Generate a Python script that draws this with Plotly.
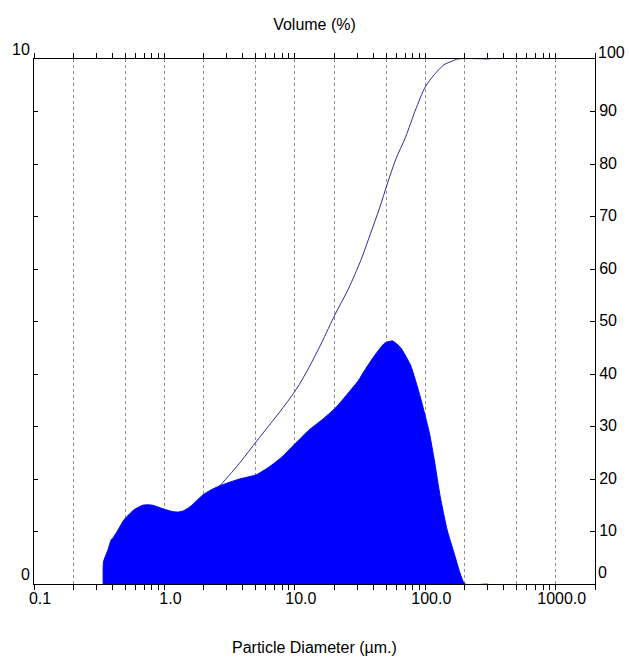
import math
import plotly.graph_objects as go

# Volume density (left axis, %) vs particle diameter (um)
D_FILL = [0.339, 0.341, 0.37, 0.39, 0.404, 0.441, 0.489, 0.582, 0.681, 0.743, 0.811,
          0.933, 1.11, 1.25, 1.39, 1.57, 1.98, 2.23, 2.65, 3.76, 5.06, 6.35, 7.96,
          10.2, 12.8, 16.0, 20.4, 25.7, 30.6, 34.5, 41.1, 48.9, 56.2, 64.7, 77.0,
          91.6, 107.4, 117.2, 130.2, 147.0, 166.1, 184.5, 201, 300]
V_FILL = [0, 0.42, 0.66, 0.84, 0.88, 1.03, 1.22, 1.41, 1.50, 1.51, 1.50,
          1.45, 1.39, 1.37, 1.39, 1.47, 1.70, 1.78, 1.87, 2.00, 2.08, 2.23, 2.42,
          2.69, 2.93, 3.12, 3.35, 3.64, 3.87, 4.08, 4.36, 4.59, 4.63, 4.50, 4.17,
          3.56, 2.88, 2.36, 1.66, 1.03, 0.59, 0.21, 0, 0]

# Cumulative volume (right axis, %)
D_CUM = [0.339, 0.4, 0.5, 0.6, 0.7, 0.8, 1.0, 1.25, 1.5, 2.0, 2.57, 3.76, 5.16,
         7.56, 10.2, 12.8, 16.0, 20.4, 25.7, 32.2, 38.2, 44.6, 51.4, 59.2, 70.5,
         84.1, 100, 117, 139, 161, 175, 310]
C_CUM = [0, 0.5, 1.8, 3.3, 4.7, 6.0, 8.2, 10.3, 12.2, 15.5, 18.3, 23.0, 27.4,
         32.6, 37.0, 41.2, 45.9, 51.4, 56.2, 61.8, 66.9, 71.6, 76.4, 80.8, 85.1,
         90.3, 94.7, 97.0, 98.9, 99.6, 100, 100]

X_MAJOR = [0.1, 1, 10, 100, 1000]
X_MAJOR_TEXT = ["0.1", "1.0", "10.0", "100.0", "1000.0"]
X_GRID = [0.2, 0.5, 1, 2, 5, 10, 20, 50, 100, 200, 500, 1000]
Y_RIGHT = list(range(0, 101, 10))
Y_RIGHT_TEXT = [""] + [str(v) for v in range(10, 100, 10)] + [""]
Y_LEFT = list(range(0, 11))
Y_LEFT_TEXT = ["0"] + [""] * 9 + ["10"]

X_MIN, X_MAX = 0.1, 2000
X_RANGE = [math.log10(X_MIN), math.log10(X_MAX)]
X_MINOR = [k * 10 ** e for e in range(-1, 4) for k in range(2, 10) if k * 10 ** e <= X_MAX]

FONT = "Liberation Sans, Arial, sans-serif"
TXT = "#000000"

fig = go.Figure()
fig.add_trace(go.Scatter(
    x=D_CUM, y=C_CUM, xaxis="x", yaxis="y", mode="lines",
    line=dict(color="#2c2ca0", width=1, shape="spline", smoothing=0.8),
    hoverinfo="skip"))
fig.add_trace(go.Scatter(
    x=D_FILL, y=V_FILL, xaxis="x2", yaxis="y2", mode="lines",
    fill="tozeroy", fillcolor="#0000ff",
    line=dict(color="#0000ff", width=1, shape="spline", smoothing=0.5),
    hoverinfo="skip"))

fig.update_layout(
    width=629, height=663,
    margin=dict(l=32, r=28, t=59, b=79),
    paper_bgcolor="white", plot_bgcolor="white", showlegend=False,
    font=dict(family=FONT, size=16, color=TXT),
    title=dict(text="Volume (%)", x=0.5, xref="paper", xanchor="center",
               y=1 - 24 / 663, yref="container", yanchor="middle",
               font=dict(family=FONT, size=16, color=TXT)),
    xaxis=dict(type="log", range=X_RANGE, tickmode="array", tickvals=X_MAJOR,
               ticktext=X_MAJOR_TEXT, ticks="outside", ticklen=5, tickwidth=1,
               tickcolor="black", ticklabelshift=6, ticklabelstandoff=-5,
               minor=dict(tickmode="array", tickvals=X_MINOR, ticks="outside",
                          ticklen=5, tickwidth=1, tickcolor="black", showgrid=False),
               showgrid=False, zeroline=False, showline=True, linecolor="black",
               linewidth=1, mirror="ticks"),
    xaxis2=dict(type="log", range=X_RANGE, overlaying="x", anchor="y2", side="bottom",
                tickmode="array", tickvals=X_GRID, showticklabels=False, ticks="",
                showgrid=True, gridcolor="#8c8c8c", griddash="dot", gridwidth=1,
                showline=False, zeroline=False),
    xaxis3=dict(type="log", range=X_RANGE, overlaying="x", anchor="y", side="top",
                tickmode="array", tickvals=X_MAJOR, showticklabels=False,
                ticks="inside", ticklen=4, tickwidth=1, tickcolor="black",
                minor=dict(tickmode="array", tickvals=X_MINOR, ticks="inside",
                           ticklen=4, tickwidth=1, tickcolor="black", showgrid=False),
                showgrid=False, showline=False, zeroline=False),
    yaxis=dict(range=[0, 100], side="right", tickmode="array", tickvals=Y_RIGHT,
               ticktext=Y_RIGHT_TEXT, ticks="inside", ticklen=5, tickwidth=1,
               tickcolor="black", ticklabelshift=-1, showgrid=False, zeroline=False,
               showline=True, linecolor="black", linewidth=1),
    yaxis2=dict(range=[0, 10], overlaying="y", side="left", anchor="x2",
                tickmode="array", tickvals=Y_LEFT, ticktext=Y_LEFT_TEXT,
                ticks="inside", ticklen=4, tickwidth=1, tickcolor="black",
                ticklabelshift=-10, showgrid=False, zeroline=False,
                showline=True, linecolor="black", linewidth=1),
    annotations=[
        dict(text="100", xref="paper", x=1, xanchor="left", xshift=1,
             yref="y", y=100, yanchor="middle", yshift=7, showarrow=False,
             font=dict(family=FONT, size=16, color=TXT)),
        dict(text="0", xref="paper", x=1, xanchor="left", xshift=1,
             yref="y", y=0, yanchor="middle", yshift=12, showarrow=False,
             font=dict(family=FONT, size=16, color=TXT)),
        dict(text="Particle Diameter (µm.)", xref="paper", x=0.5, xanchor="center",
             yref="paper", y=0, yanchor="middle", yshift=-63, showarrow=False,
             font=dict(family=FONT, size=16, color=TXT)),
    ],
)

fig.write_html("out.html")
